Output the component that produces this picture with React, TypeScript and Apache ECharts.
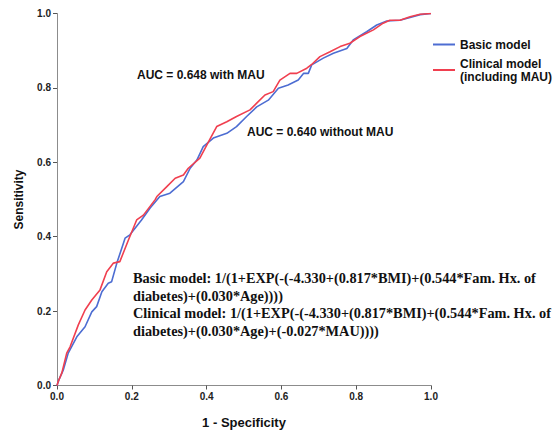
import React, { useEffect, useRef } from "react";
import * as echarts from "echarts";

const basicModel: [number, number][] = [
  [0, 0], [0.005, 0.015], [0.017, 0.042], [0.03, 0.087], [0.053, 0.131], [0.075, 0.158],
  [0.093, 0.198], [0.106, 0.212], [0.12, 0.252], [0.137, 0.275], [0.146, 0.279], [0.16, 0.329],
  [0.182, 0.396], [0.195, 0.405], [0.226, 0.445], [0.249, 0.477], [0.275, 0.508], [0.302, 0.517],
  [0.338, 0.548], [0.356, 0.584], [0.374, 0.606], [0.391, 0.642], [0.418, 0.665], [0.454, 0.678],
  [0.48, 0.696], [0.507, 0.723], [0.534, 0.749], [0.565, 0.767], [0.592, 0.799], [0.618, 0.808],
  [0.645, 0.821], [0.659, 0.839], [0.672, 0.839], [0.681, 0.862], [0.712, 0.88], [0.739, 0.893],
  [0.775, 0.906], [0.792, 0.929], [0.828, 0.951], [0.855, 0.969], [0.882, 0.98], [0.917, 0.982],
  [0.944, 0.989], [0.971, 0.997], [1, 1],
];

const clinicalModel: [number, number][] = [
  [0, 0], [0.003, 0.01], [0.013, 0.034], [0.026, 0.087], [0.035, 0.104], [0.057, 0.163],
  [0.075, 0.203], [0.093, 0.23], [0.115, 0.257], [0.133, 0.306], [0.151, 0.329], [0.168, 0.333],
  [0.191, 0.391], [0.213, 0.445], [0.231, 0.458], [0.262, 0.499], [0.267, 0.508], [0.293, 0.534],
  [0.316, 0.557], [0.338, 0.566], [0.351, 0.584], [0.382, 0.611], [0.405, 0.655], [0.427, 0.696],
  [0.454, 0.709], [0.48, 0.723], [0.516, 0.741], [0.534, 0.759], [0.556, 0.781], [0.578, 0.79],
  [0.596, 0.821], [0.623, 0.839], [0.641, 0.839], [0.668, 0.853], [0.681, 0.863], [0.703, 0.884],
  [0.73, 0.897], [0.757, 0.911], [0.783, 0.92], [0.81, 0.938], [0.846, 0.956], [0.872, 0.974],
  [0.89, 0.982], [0.917, 0.982], [0.944, 0.991], [0.971, 0.998], [1, 1],
];

const seriesNames = ["Basic model", "Clinical model\n(including MAU)"];
const aucLabels = ["AUC = 0.648 with MAU", "AUC = 0.640 without MAU"];
const formulaLines = [
  "Basic model: 1/(1+EXP(-(-4.330+(0.817*BMI)+(0.544*Fam. Hx. of",
  "diabetes)+(0.030*Age))))",
  "Clinical model: 1/(1+EXP(-(-4.330+(0.817*BMI)+(0.544*Fam. Hx. of",
  "diabetes)+(0.030*Age)+(-0.027*MAU))))",
];

const BLUE = "#4d6dd2";
const RED = "#f03f4f";
const SANS = "'Liberation Sans', Arial, sans-serif";
const SERIF = "'Liberation Serif', 'Times New Roman', serif";

export default function App() {
  const ref = useRef<HTMLDivElement>(null);
  useEffect(() => {
    if (!ref.current) return;
    const chart = echarts.init(ref.current, null, { renderer: "svg" });
    const axisCommon = {
      type: "value" as const,
      min: 0,
      max: 1,
      interval: 0.2,
      splitLine: { show: false },
      axisLine: { show: true, lineStyle: { color: "#8c8c8c", width: 1 } },
      axisTick: { show: true, length: 4, lineStyle: { color: "#555" } },
      axisLabel: {
        color: "#222",
        fontFamily: SANS,
        fontWeight: "bold" as const,
        fontSize: 10,
        margin: 6,
        formatter: (v: number) => v.toFixed(1),
      },
      nameLocation: "middle" as const,
      nameTextStyle: { color: "#111", fontFamily: SANS, fontWeight: "bold" as const },
    };
    chart.setOption({
      animation: false,
      backgroundColor: "#fff",
      grid: {
        left: 57,
        right: 125,
        top: 13.5,
        bottom: 45.5,
        containLabel: false,
        outerBoundsMode: "none",
      },
      xAxis: {
        ...axisCommon,
        name: "1 - Specificity",
        nameGap: 30,
        nameTextStyle: { ...axisCommon.nameTextStyle, fontSize: 13 },
      },
      yAxis: {
        ...axisCommon,
        name: "Sensitivity",
        nameGap: 32,
        nameTextStyle: { ...axisCommon.nameTextStyle, fontSize: 12 },
      },
      legend: {
        orient: "vertical",
        left: 433,
        top: 38,
        padding: 0,
        itemWidth: 22,
        itemHeight: 2,
        itemGap: 6,
        icon: "rect",
        textStyle: { fontFamily: SANS, fontWeight: "bold", fontSize: 12, color: "#111", lineHeight: 13 },
        data: seriesNames,
      },
      series: [
        {
          name: seriesNames[0],
          type: "line",
          data: basicModel,
          showSymbol: false,
          lineStyle: { color: BLUE, width: 1.6 },
          itemStyle: { color: BLUE },
          z: 2,
        },
        {
          name: seriesNames[1],
          type: "line",
          data: clinicalModel,
          showSymbol: false,
          lineStyle: { color: RED, width: 1.6 },
          itemStyle: { color: RED },
          z: 3,
        },
      ],
      graphic: [
        {
          type: "text",
          left: 137,
          top: 69,
          style: { text: aucLabels[0], font: `bold 12px ${SANS}`, fill: "#111" },
        },
        {
          type: "text",
          left: 247,
          top: 126,
          style: { text: aucLabels[1], font: `bold 12px ${SANS}`, fill: "#111" },
        },
        ...formulaLines.map((t, i) => ({
          type: "text",
          left: 133,
          top: 271 + i * 17.5,
          style: { text: t, font: `bold 14.3px ${SERIF}`, fill: "#111" },
        })),
      ],
    });
    return () => chart.dispose();
  }, []);
  return (
    <div
      ref={ref}
      style={{ position: "fixed", left: 0, top: 0, width: 556, height: 431, background: "#fff" }}
    />
  );
}
